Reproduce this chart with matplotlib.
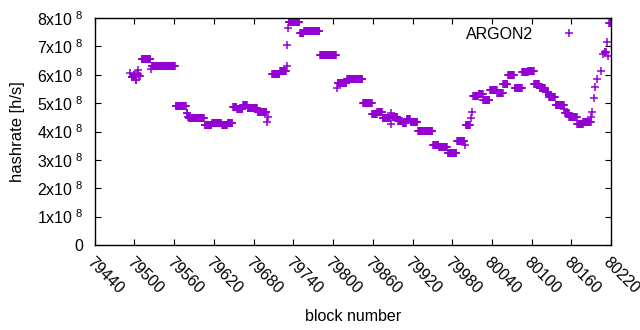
import numpy as np
import matplotlib
matplotlib.use('Agg')
import matplotlib.pyplot as plt

plt.rcParams['font.family'] = ['Liberation Sans', 'DejaVu Sans']
plt.rcParams['mathtext.fontset'] = 'custom'
plt.rcParams['mathtext.rm'] = 'Liberation Sans'

# runs of blocks with the same hashrate (start block, end block, value in 1e8 h/s)
run_start = [79494, 79496, 79499, 79502, 79504, 79506, 79507, 79511, 79525, 79526,
             79562, 79579, 79581, 79583, 79606, 79617, 79632, 79641, 79649, 79655,
             79664, 79671, 79686, 79700, 79702, 79708, 79720, 79730, 79731, 79732,
             79733, 79750, 79756, 79780, 79806, 79807, 79821, 79845, 79859, 79867,
             79875, 79887, 79888, 79889, 79898, 79905, 79911, 79917, 79928, 79951,
             79960, 79973, 79987, 79999, 80000, 80008, 80010, 80012, 80020, 80027,
             80037, 80048, 80057, 80064, 80074, 80086, 80095, 80104, 80112, 80121,
             80126, 80136, 80149, 80150, 80157, 80169, 80178, 80190, 80191, 80194,
             80196, 80199, 80205, 80208, 80210, 80213, 80215, 80217]
run_end = [79494, 79498, 79501, 79503, 79505, 79506, 79508, 79524, 79525, 79561,
           79578, 79580, 79582, 79605, 79616, 79631, 79640, 79648, 79654, 79663,
           79670, 79685, 79699, 79700, 79702, 79719, 79729, 79730, 79731, 79732,
           79749, 79755, 79779, 79804, 79806, 79820, 79844, 79858, 79866, 79874,
           79886, 79887, 79888, 79897, 79904, 79910, 79916, 79927, 79950, 79959,
           79972, 79986, 79998, 79999, 80007, 80008, 80010, 80019, 80026, 80036,
           80047, 80056, 80063, 80073, 80085, 80094, 80103, 80111, 80120, 80125,
           80135, 80148, 80149, 80156, 80168, 80177, 80189, 80190, 80191, 80194,
           80196, 80199, 80205, 80208, 80212, 80213, 80215, 80219]
run_value = [6.05, 5.92, 5.98, 5.80, 6.02, 6.18, 5.95, 6.57, 6.22, 6.30,
             4.90, 4.66, 4.52, 4.47, 4.23, 4.30, 4.22, 4.30, 4.88, 4.80,
             4.92, 4.82, 4.68, 4.35, 4.50, 6.02, 6.13, 6.31, 7.04, 7.66,
             7.85, 7.48, 7.55, 6.70, 5.55, 5.72, 5.85, 5.02, 4.62, 4.70,
             4.46, 4.28, 4.64, 4.50, 4.37, 4.30, 4.43, 4.32, 4.01, 3.52,
             3.44, 3.23, 3.65, 3.52, 4.22, 4.46, 4.70, 5.26, 5.31, 5.12,
             5.48, 5.35, 5.67, 5.98, 5.55, 6.09, 6.13, 5.67, 5.55, 5.40,
             5.22, 4.92, 4.78, 4.64, 4.52, 4.25, 4.34, 4.50, 4.69, 5.19,
             5.57, 5.85, 6.14, 6.75, 6.80, 7.16, 6.65, 7.82]

blocks = []
rates = []
for s, e, v in zip(run_start, run_end, run_value):
    for b in range(s, e + 1):
        blocks.append(b)
        rates.append(v * 1e8)

purple = '#9400d3'

fig = plt.figure(figsize=(6.4, 3.3), dpi=100)
ax = fig.add_axes([0.148, 0.258, 0.807, 0.687])
ax.plot(blocks, rates, '+', color=purple, ms=5.5, mew=1.1, label='ARGON2')

ax.set_xlim(79440, 80220)
ax.set_ylim(0, 8e8)
ax.set_xticks(range(79440, 80221, 60))
ax.set_xticklabels([str(t) for t in range(79440, 80221, 60)],
                   rotation=-45, ha='left', va='top', rotation_mode='anchor')
yt = [i * 1e8 for i in range(9)]
ax.set_yticks(yt)
ax.set_yticklabels(['0'] + [r'$\mathregular{%dx10^{\ 8}}$' % i for i in range(1, 9)])
ax.tick_params(direction='in', top=True, right=True, length=4, width=0.8,
               labelsize=11.5, colors='black')
ax.tick_params(axis='x', pad=7)
ax.tick_params(axis='y', pad=8)
for sp in ax.spines.values():
    sp.set_linewidth(1.0)

ax.set_xlabel('block number', fontsize=11.5, labelpad=9)
ax.set_ylabel('hashrate [h/s]', fontsize=12, labelpad=9)

ax.legend(loc='upper right', bbox_to_anchor=(0.950, 0.962), markerfirst=False,
          frameon=False, handlelength=2, handletextpad=1.3, borderpad=0,
          borderaxespad=0, fontsize=11.5, numpoints=1)

fig.savefig('out.png', dpi=100)
